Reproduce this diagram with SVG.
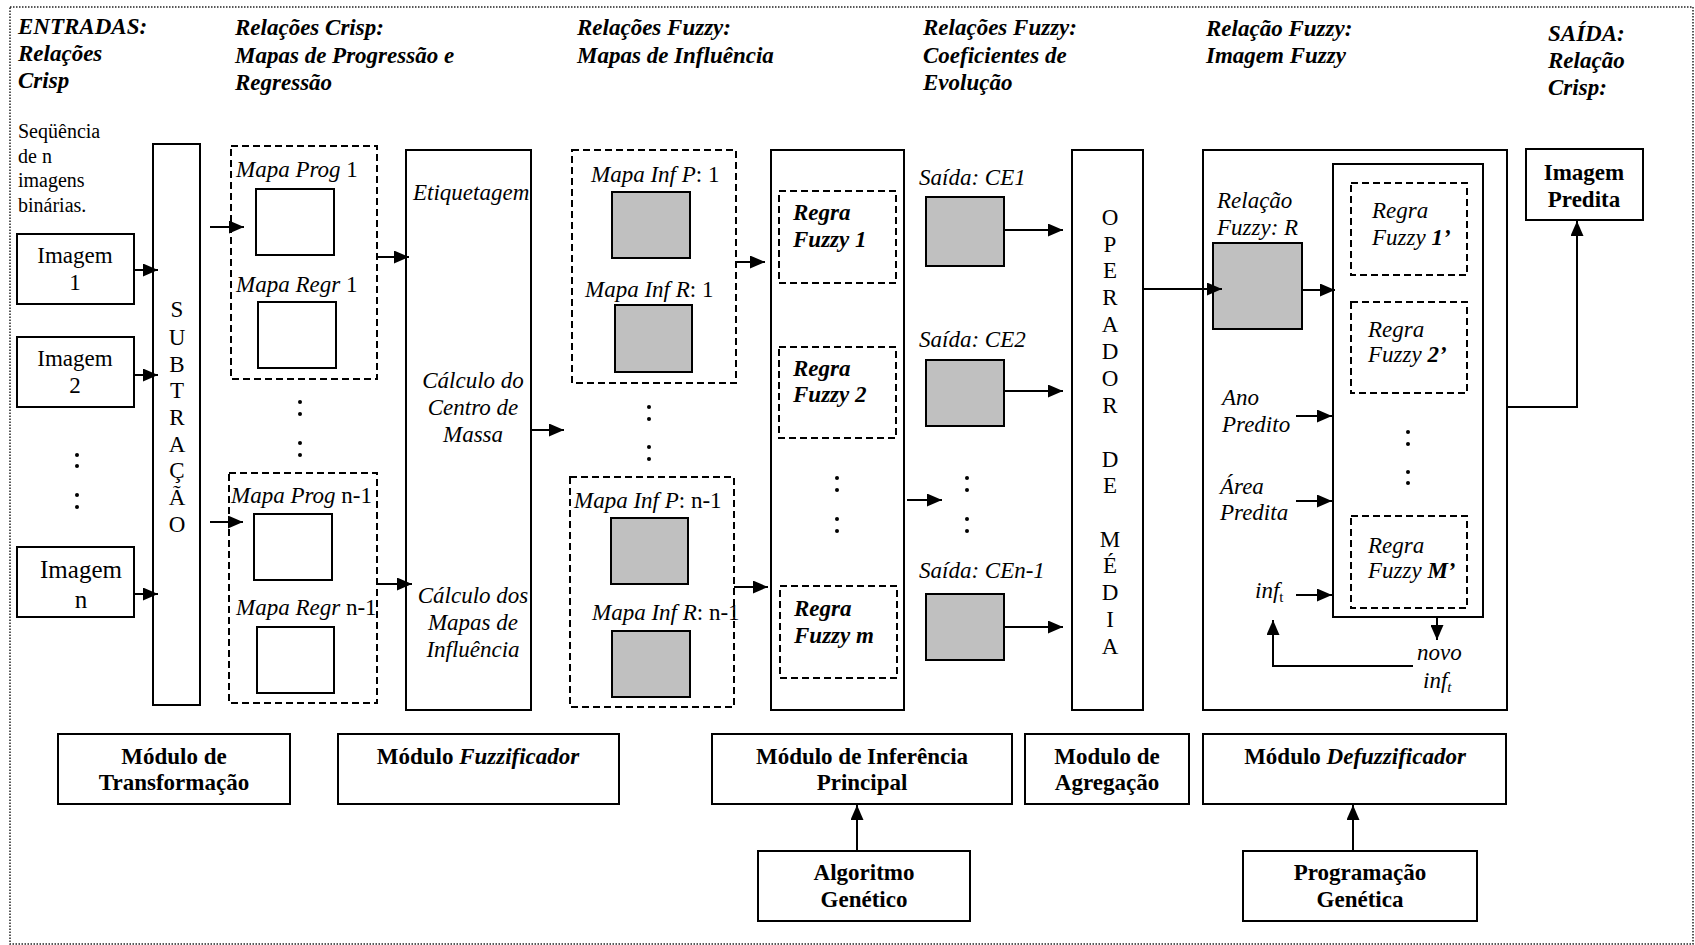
<svg xmlns="http://www.w3.org/2000/svg" width="1695" height="945" viewBox="0 0 1695 945">
  <defs>
    <marker id="ah" markerWidth="15" markerHeight="13" refX="15" refY="6.5" orient="auto" markerUnits="userSpaceOnUse">
      <path d="M0,0 L15,6.5 L0,13 z" fill="#000"/>
    </marker>
    <style>
      text { font-family: "Liberation Serif", "Times New Roman", serif; font-size: 23px; fill: #000; }
      .hdr { font-weight: bold; font-style: italic; }
      .it { font-style: italic; }
      .bi { font-weight: bold; font-style: italic; }
      .b { font-weight: bold; }
      .mid { text-anchor: middle; }
      .box { fill: #fff; stroke: #000; stroke-width: 2; }
      .gray { fill: #c0c0c0; stroke: #000; stroke-width: 2; }
      .dash { fill: none; stroke: #000; stroke-width: 2; stroke-dasharray: 7 4; }
      .frame { fill: none; stroke: #222; stroke-width: 1.5; stroke-dasharray: 1.5 1.5; }
      .line { fill: none; stroke: #000; stroke-width: 2; }
      .arr { fill: none; stroke: #000; stroke-width: 2; marker-end: url(#ah); }
      .dot { fill: #000; }
    </style>
  </defs>

  <rect width="1695" height="945" fill="#fff"/>
  <rect class="frame" x="10" y="7" width="1683" height="937"/>

  <!-- column headings -->
  <g id="headings">
    <text class="hdr" x="18" y="34">ENTRADAS:<tspan x="18" y="61">Relações</tspan><tspan x="18" y="88">Crisp</tspan></text>
    <text class="hdr" x="235" y="35">Relações Crisp:<tspan x="235" y="63">Mapas de Progressão e</tspan><tspan x="235" y="90">Regressão</tspan></text>
    <text class="hdr" x="577" y="35">Relações Fuzzy:<tspan x="577" y="63">Mapas de Influência</tspan></text>
    <text class="hdr" x="923" y="35">Relações Fuzzy:<tspan x="923" y="63">Coeficientes de</tspan><tspan x="923" y="90">Evolução</tspan></text>
    <text class="hdr" x="1206" y="36">Relação Fuzzy:<tspan x="1206" y="63">Imagem Fuzzy</tspan></text>
    <text class="hdr" x="1548" y="41">SAÍDA:<tspan x="1548" y="68">Relação</tspan><tspan x="1548" y="95">Crisp:</tspan></text>
  </g>

  <!-- inputs -->
  <g id="inputs-caption">
    <text x="18" y="138" style="font-size:20px">Seqüência<tspan x="18" y="163">de n</tspan><tspan x="18" y="187">imagens</tspan><tspan x="18" y="212">binárias.</tspan></text>
  </g>
  <g id="imagem-1">
    <rect class="box" x="17" y="234" width="117" height="70"/>
    <text class="mid" x="75" y="263">Imagem</text>
    <text class="mid" x="75" y="290">1</text>
  </g>
  <g id="imagem-2">
    <rect class="box" x="17" y="337" width="117" height="70"/>
    <text class="mid" x="75" y="366">Imagem</text>
    <text class="mid" x="75" y="393">2</text>
  </g>
  <g id="imagem-dots">
    <circle class="dot" cx="77" cy="455" r="2"/><circle class="dot" cx="77" cy="466" r="2"/>
    <circle class="dot" cx="77" cy="495" r="2"/><circle class="dot" cx="77" cy="507" r="2"/>
  </g>
  <g id="imagem-n">
    <rect class="box" x="17" y="547" width="117" height="70"/>
    <text class="mid" x="81" y="578" style="font-size:25px">Imagem</text>
    <text class="mid" x="81" y="608" style="font-size:25px">n</text>
  </g>

  <!-- subtraction column -->
  <g id="subtracao">
    <rect class="box" x="153" y="144" width="47" height="561"/>
    <text class="mid" x="177" y="317">S</text>
    <text class="mid" x="177" y="345">U</text>
    <text class="mid" x="177" y="372">B</text>
    <text class="mid" x="177" y="398">T</text>
    <text class="mid" x="177" y="425">R</text>
    <text class="mid" x="177" y="452">A</text>
    <text class="mid" x="177" y="478">Ç</text>
    <text class="mid" x="177" y="505">Ã</text>
    <text class="mid" x="177" y="532">O</text>
  </g>

  <!-- progression / regression maps -->
  <g id="mapas-1">
    <rect class="dash" x="231" y="146" width="146" height="233"/>
    <text x="236" y="177"><tspan class="it">Mapa Prog</tspan> 1</text>
    <rect class="box" x="256" y="189" width="78" height="66"/>
    <text x="236" y="292"><tspan class="it">Mapa Regr</tspan> 1</text>
    <rect class="box" x="258" y="302" width="78" height="66"/>
  </g>
  <g id="mapas-dots">
    <circle class="dot" cx="300" cy="402" r="2"/><circle class="dot" cx="300" cy="414" r="2"/>
    <circle class="dot" cx="300" cy="443" r="2"/><circle class="dot" cx="300" cy="455" r="2"/>
  </g>
  <g id="mapas-n-1">
    <rect class="dash" x="229" y="473" width="148" height="230"/>
    <text x="231" y="503"><tspan class="it">Mapa Prog</tspan> n-1</text>
    <rect class="box" x="254" y="514" width="78" height="66"/>
    <text x="236" y="615"><tspan class="it">Mapa Regr</tspan> n-1</text>
    <rect class="box" x="257" y="627" width="77" height="66"/>
  </g>

  <!-- fuzzifier column -->
  <g id="fuzzificador">
    <rect class="box" x="406" y="150" width="125" height="560"/>
    <text class="it" x="413" y="200">Etiquetagem</text>
    <text class="it mid" x="473" y="388">Cálculo do</text>
    <text class="it mid" x="473" y="415">Centro de</text>
    <text class="it mid" x="473" y="442">Massa</text>
    <text class="it mid" x="473" y="603">Cálculo dos</text>
    <text class="it mid" x="473" y="630">Mapas de</text>
    <text class="it mid" x="473" y="657">Influência</text>
  </g>

  <!-- influence maps -->
  <g id="influencia-1">
    <rect class="dash" x="572" y="150" width="164" height="233"/>
    <text x="591" y="182"><tspan class="it">Mapa Inf P</tspan>: 1</text>
    <rect class="gray" x="612" y="192" width="78" height="66"/>
    <text x="585" y="297"><tspan class="it">Mapa Inf R</tspan>: 1</text>
    <rect class="gray" x="615" y="305" width="77" height="67"/>
  </g>
  <g id="influencia-dots">
    <circle class="dot" cx="649" cy="407" r="2"/><circle class="dot" cx="649" cy="419" r="2"/>
    <circle class="dot" cx="649" cy="447" r="2"/><circle class="dot" cx="649" cy="459" r="2"/>
  </g>
  <g id="influencia-n-1">
    <rect class="dash" x="570" y="477" width="164" height="230"/>
    <text x="574" y="508"><tspan class="it">Mapa Inf P</tspan>: n-1</text>
    <rect class="gray" x="611" y="518" width="77" height="66"/>
    <text x="592" y="620"><tspan class="it">Mapa Inf R</tspan>: n-1</text>
    <rect class="gray" x="612" y="631" width="78" height="66"/>
  </g>

  <!-- main inference column -->
  <g id="inferencia">
    <rect class="box" x="771" y="150" width="133" height="560"/>
    <rect class="dash" x="779" y="191" width="117" height="92"/>
    <text class="bi" x="793" y="220">Regra</text>
    <text class="bi" x="793" y="247">Fuzzy 1</text>
    <rect class="dash" x="779" y="347" width="117" height="91"/>
    <text class="bi" x="793" y="376">Regra</text>
    <text class="bi" x="793" y="402">Fuzzy 2</text>
    <circle class="dot" cx="837" cy="478" r="2"/><circle class="dot" cx="837" cy="490" r="2"/>
    <circle class="dot" cx="837" cy="519" r="2"/><circle class="dot" cx="837" cy="531" r="2"/>
    <rect class="dash" x="780" y="586" width="117" height="92"/>
    <text class="bi" x="794" y="616">Regra</text>
    <text class="bi" x="794" y="643">Fuzzy m</text>
  </g>

  <!-- evolution coefficients -->
  <g id="ce-1">
    <text class="it" x="919" y="185">Saída: CE1</text>
    <rect class="gray" x="926" y="197" width="78" height="69"/>
  </g>
  <g id="ce-2">
    <text class="it" x="919" y="347">Saída: CE2</text>
    <rect class="gray" x="926" y="360" width="78" height="66"/>
  </g>
  <g id="ce-dots">
    <circle class="dot" cx="967" cy="478" r="2"/><circle class="dot" cx="967" cy="490" r="2"/>
    <circle class="dot" cx="967" cy="519" r="2"/><circle class="dot" cx="967" cy="531" r="2"/>
  </g>
  <g id="ce-n-1">
    <text class="it" x="919" y="578">Saída: CEn-1</text>
    <rect class="gray" x="926" y="594" width="78" height="66"/>
  </g>

  <!-- averaging operator -->
  <g id="operador-media">
    <rect class="box" x="1072" y="150" width="71" height="560"/>
    <text class="mid" x="1110" y="225">O</text>
    <text class="mid" x="1110" y="252">P</text>
    <text class="mid" x="1110" y="278">E</text>
    <text class="mid" x="1110" y="305">R</text>
    <text class="mid" x="1110" y="332">A</text>
    <text class="mid" x="1110" y="359">D</text>
    <text class="mid" x="1110" y="386">O</text>
    <text class="mid" x="1110" y="413">R</text>
    <text class="mid" x="1110" y="467">D</text>
    <text class="mid" x="1110" y="493">E</text>
    <text class="mid" x="1110" y="547">M</text>
    <text class="mid" x="1110" y="573">É</text>
    <text class="mid" x="1110" y="600">D</text>
    <text class="mid" x="1110" y="627">I</text>
    <text class="mid" x="1110" y="654">A</text>
  </g>

  <!-- defuzzifier -->
  <g id="defuzzificador">
    <rect class="box" x="1203" y="150" width="304" height="560"/>
    <text class="it" x="1217" y="208">Relação</text>
    <text class="it" x="1217" y="235">Fuzzy: R</text>
    <rect class="gray" x="1213" y="243" width="89" height="86"/>
    <text class="it" x="1222" y="405">Ano</text>
    <text class="it" x="1222" y="432">Predito</text>
    <text class="it" x="1220" y="494">Área</text>
    <text class="it" x="1220" y="520">Predita</text>
    <text x="1255" y="598"><tspan class="it">inf</tspan><tspan style="font-size:15px" dy="4">t</tspan></text>
    <text class="it" x="1417" y="660">novo</text>
    <text class="it" x="1423" y="688">inf<tspan style="font-size:15px" dy="4">t</tspan></text>
  </g>
  <g id="regras-geneticas">
    <rect class="box" x="1333" y="164" width="150" height="453"/>
    <rect class="dash" x="1351" y="183" width="116" height="92"/>
    <text class="it" x="1372" y="218">Regra</text>
    <text x="1372" y="245"><tspan class="it">Fuzzy </tspan><tspan class="bi">1’</tspan></text>
    <rect class="dash" x="1351" y="302" width="116" height="91"/>
    <text class="it" x="1368" y="337">Regra</text>
    <text x="1368" y="362"><tspan class="it">Fuzzy </tspan><tspan class="bi">2’</tspan></text>
    <circle class="dot" cx="1408" cy="432" r="2"/><circle class="dot" cx="1408" cy="444" r="2"/>
    <circle class="dot" cx="1408" cy="472" r="2"/><circle class="dot" cx="1408" cy="483" r="2"/>
    <rect class="dash" x="1351" y="516" width="116" height="92"/>
    <text class="it" x="1368" y="553">Regra</text>
    <text x="1368" y="578"><tspan class="it">Fuzzy </tspan><tspan class="bi">M’</tspan></text>
  </g>

  <!-- output -->
  <g id="imagem-predita">
    <rect class="box" x="1526" y="149" width="117" height="71"/>
    <text class="b mid" x="1584" y="180">Imagem</text>
    <text class="b mid" x="1584" y="207">Predita</text>
  </g>

  <!-- module captions -->
  <g id="modulo-transformacao">
    <rect class="box" x="58" y="734" width="232" height="70"/>
    <text class="b mid" x="174" y="764">Módulo de</text>
    <text class="b mid" x="174" y="790">Transformação</text>
  </g>
  <g id="modulo-fuzzificador">
    <rect class="box" x="338" y="734" width="281" height="70"/>
    <text class="b mid" x="478" y="764">Módulo <tspan class="it">Fuzzificador</tspan></text>
  </g>
  <g id="modulo-inferencia">
    <rect class="box" x="712" y="734" width="300" height="70"/>
    <text class="b mid" x="862" y="764">Módulo de Inferência</text>
    <text class="b mid" x="862" y="790">Principal</text>
  </g>
  <g id="modulo-agregacao">
    <rect class="box" x="1025" y="734" width="164" height="70"/>
    <text class="b mid" x="1107" y="764">Modulo de</text>
    <text class="b mid" x="1107" y="790">Agregação</text>
  </g>
  <g id="modulo-defuzzificador">
    <rect class="box" x="1203" y="734" width="303" height="70"/>
    <text class="b mid" x="1355" y="764">Módulo <tspan class="it">Defuzzificador</tspan></text>
  </g>
  <g id="algoritmo-genetico">
    <rect class="box" x="758" y="851" width="212" height="70"/>
    <text class="b mid" x="864" y="880">Algoritmo</text>
    <text class="b mid" x="864" y="907">Genético</text>
  </g>
  <g id="programacao-genetica">
    <rect class="box" x="1243" y="851" width="234" height="70"/>
    <text class="b mid" x="1360" y="880">Programação</text>
    <text class="b mid" x="1360" y="907">Genética</text>
  </g>

  <!-- connectors -->
  <g id="connectors">
    <line class="arr" x1="134" y1="270" x2="158" y2="270"/>
    <line class="arr" x1="134" y1="375" x2="158" y2="375"/>
    <line class="arr" x1="134" y1="594" x2="158" y2="594"/>
    <line class="arr" x1="210" y1="227" x2="244" y2="227"/>
    <line class="arr" x1="210" y1="522" x2="243" y2="522"/>
    <line class="arr" x1="378" y1="257" x2="409" y2="257"/>
    <line class="arr" x1="378" y1="584" x2="412" y2="584"/>
    <line class="arr" x1="531" y1="430" x2="564" y2="430"/>
    <line class="arr" x1="736" y1="262" x2="765" y2="262"/>
    <line class="arr" x1="734" y1="587" x2="768" y2="587"/>
    <line class="arr" x1="907" y1="500" x2="942" y2="500"/>
    <line class="arr" x1="1004" y1="230" x2="1063" y2="230"/>
    <line class="arr" x1="1004" y1="391" x2="1063" y2="391"/>
    <line class="arr" x1="1004" y1="627" x2="1063" y2="627"/>
    <line class="arr" x1="1143" y1="289" x2="1222" y2="289"/>
    <line class="arr" x1="1302" y1="290" x2="1335" y2="290"/>
    <line class="arr" x1="1296" y1="416" x2="1332" y2="416"/>
    <line class="arr" x1="1296" y1="501" x2="1332" y2="501"/>
    <line class="arr" x1="1296" y1="595" x2="1332" y2="595"/>
    <line class="arr" x1="1437" y1="617" x2="1437" y2="640"/>
    <polyline class="arr" points="1413,666 1273,666 1273,620"/>
    <polyline class="arr" points="1507,407 1577,407 1577,221"/>
    <line class="arr" x1="857" y1="851" x2="857" y2="805"/>
    <line class="arr" x1="1353" y1="851" x2="1353" y2="805"/>
  </g>
</svg>
